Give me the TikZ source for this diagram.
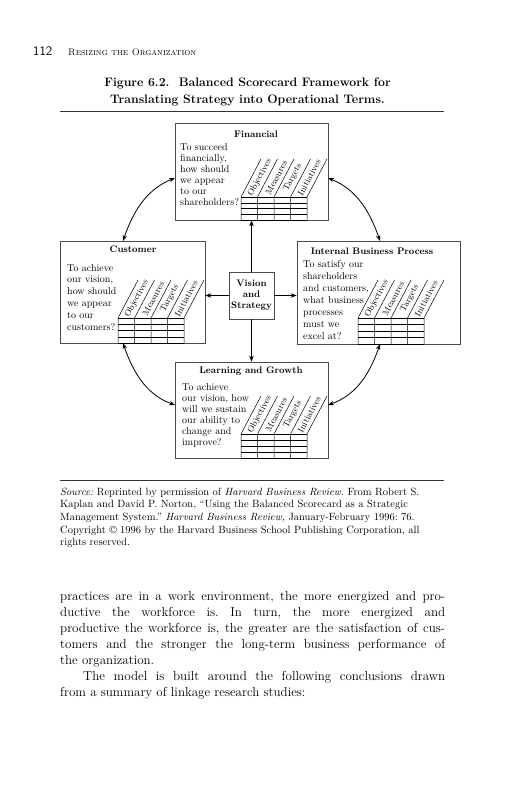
\documentclass[tikz,border=0pt]{standalone}
\usetikzlibrary{arrows.meta}
\frenchspacing
\newcommand\scgrid[3]{%
  \foreach \i in {0,...,4} {
    \draw[gridline] ({#1+16.5*\i},#3) -- ({#1+16.5*\i},#2) -- ++(20,-38);
  }
  \foreach \j in {0,...,4} {
    \draw[gridline] (#1,{#2+(#3-#2)*\j/4}) -- ({#1+66},{#2+(#3-#2)*\j/4});
  }
  \foreach \lab [count=\k from 0] in {Objectives,Measures,Targets,Initiatives} {
    \node[collabel] (lab\k) at ({#1+16.5*\k+8.25+10.5}, {#2-19.5}) {\lab};
  }
}
\begin{document}
\begin{tikzpicture}[x=1pt,y=-1pt,
  boxframe/.style={draw=black!70, line width=0.7pt, inner sep=0pt},
  gridline/.style={draw=black, line width=0.5pt},
  arr/.style={-{Stealth[length=6pt,width=4.5pt]}, line width=0.8pt},
  dblarr/.style={{Stealth[length=6pt,width=4.5pt]}-{Stealth[length=6pt,width=4.5pt]}, line width=0.8pt},
  btitle/.style={font=\fontsize{9.5}{11}\selectfont\bfseries, inner sep=0pt},
  collabel/.style={font=\fontsize{8.8}{9}\selectfont, rotate=62, inner sep=0pt},
  boxtext/.style={align=left, inner sep=0pt, anchor=north west},
  bodyline/.style={font=\fontsize{13}{16}\selectfont, inner sep=0pt, anchor=base west},
  srcline/.style={font=\fontsize{10.5}{12.7}\selectfont, inner sep=0pt, anchor=base west}]
\useasboundingbox[fill=white] (0,0) rectangle (531,800);

% header
\node[font=\fontsize{13}{15}\selectfont\sffamily, inner sep=0pt, anchor=base west] (pagenum) at (33,56) {112};
\node[font=\fontsize{9.5}{11}\selectfont\scshape, inner sep=0pt, anchor=base west] (runhead) at (68,56) {Resizing the Organization};

% figure title
\node[font=\fontsize{12.3}{14}\selectfont\bfseries, inner sep=0pt] (title1) at (247.5,83) {Figure 6.2.\ \ Balanced Scorecard Framework for};
\node[font=\fontsize{12.3}{14}\selectfont\bfseries, inner sep=0pt] (title2) at (247.5,100) {Translating Strategy into Operational Terms.};
\coordinate (r1a) at (60,111); \coordinate (r1b) at (444,111);
\draw[line width=0.6pt, black!80] (r1a) -- (r1b);

% boxes
\node[boxframe, minimum width=153, minimum height=97] (fin) at (251.5,171.5) {};
\node[boxframe, minimum width=145, minimum height=102] (cust) at (132.5,292) {};
\node[boxframe, minimum width=163, minimum height=103] (ibp) at (378.5,292.5) {};
\node[boxframe, minimum width=153, minimum height=96] (lg) at (251.5,410) {};
\node[boxframe, minimum width=45, minimum height=47, font=\fontsize{9.5}{11}\selectfont\bfseries, align=center] (vision) at (251.5,295.5) {Vision\\and\\Strategy};

% titles
\node[btitle] (fint) at (256,134.5) {Financial};
\node[btitle] (custt) at (133,249.5) {Customer};
\node[btitle] (ibpt) at (372,251.5) {Internal Business Process};
\node[btitle] (lgt) at (251,371.5) {Learning and Growth};

% texts
\node[boxtext, font=\fontsize{10}{11}\selectfont] (fintx) at (180,143) {To succeed\\financially,\\how should\\we appear\\to our\\shareholders?};
\node[boxtext, font=\fontsize{10}{11.8}\selectfont] (custtx) at (67,264) {To achieve\\our vision,\\how should\\we appear\\to our\\customers?};
\node[boxtext, font=\fontsize{10}{12}\selectfont] (ibptx) at (303,260) {To satisfy our\\shareholders\\and customers,\\what business\\processes\\must we\\excel at?};
\node[boxtext, font=\fontsize{10}{11}\selectfont] (lgtx) at (182,383) {To achieve\\our vision, how\\will we sustain\\our ability to\\change and\\improve?};

% grids
\scgrid{241}{197}{220}
\scgrid{118}{318}{343}
\scgrid{358}{318}{344}
\scgrid{241}{434}{458}

% straight arrows
\draw[arr] (vision.north) -- (fin.south);
\draw[arr] (vision.south) -- (lg.north);
\draw[arr] (vision.west) -- (cust.east |- vision.west);
\draw[arr] (vision.east) -- (ibp.west |- vision.east);

% curved arrows
\coordinate (c1a) at (123,241); \coordinate (c1b) at (175,178);
\coordinate (c2a) at (380,241); \coordinate (c2b) at (328,178);
\coordinate (c3a) at (123,343); \coordinate (c3b) at (175,405);
\coordinate (c4a) at (380,344); \coordinate (c4b) at (328,405);
\draw[dblarr] (c1a) .. controls (135,206) and (150,188) .. (c1b);
\draw[dblarr] (c2a) .. controls (368,206) and (353,188) .. (c2b);
\draw[dblarr] (c3a) .. controls (135,378) and (150,396) .. (c3b);
\draw[dblarr] (c4a) .. controls (368,379) and (353,396) .. (c4b);

% source
\coordinate (r2a) at (60,480); \coordinate (r2b) at (444,480);
\draw[line width=0.6pt, black!80] (r2a) -- (r2b);
\node[srcline] (s1) at (60,495) {\textit{Source:} Reprinted by permission of \textit{Harvard Business Review.} From Robert S.};
\node[srcline] (s2) at (60,507.7) {Kaplan and David P. Norton, “Using the Balanced Scorecard as a Strategic};
\node[srcline] (s3) at (60,520.4) {Management System.” \textit{Harvard Business Review,} January-February 1996: 76.};
\node[srcline] (s4) at (60,533.1) {Copyright \textcopyright\ 1996 by the Harvard Business School Publishing Corporation, all};
\node[srcline] (s5) at (60,545.8) {rights reserved.};

% body
\node[bodyline] (b1) at (60,600) {\makebox[385pt][s]{practices are in a work environment, the more energized and pro-}};
\node[bodyline] (b2) at (60,616) {\makebox[385pt][s]{ductive the workforce is. In turn, the more energized and}};
\node[bodyline] (b3) at (60,632) {\makebox[385pt][s]{productive the workforce is, the greater are the satisfaction of cus-}};
\node[bodyline] (b4) at (60,648) {\makebox[385pt][s]{tomers and the stronger the long-term business performance of}};
\node[bodyline] (b5) at (60,664) {the organization.};
\node[bodyline] (b6) at (83,680) {\makebox[362pt][s]{The model is built around the following conclusions drawn}};
\node[bodyline] (b7) at (60,696) {from a summary of linkage research studies:};
\end{tikzpicture}
\end{document}
